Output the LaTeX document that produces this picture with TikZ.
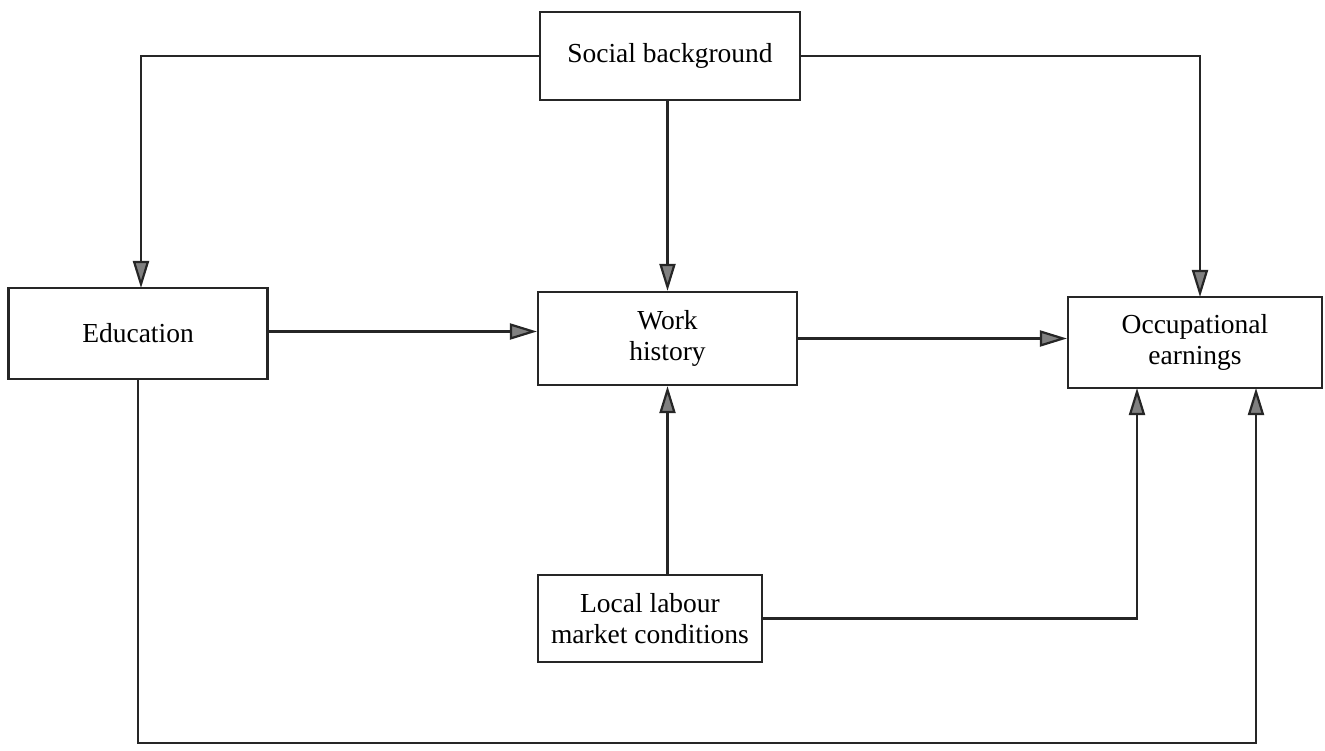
\documentclass[tikz,border=0pt]{standalone}
\usepackage{fontspec}
\setmainfont{Liberation Serif}
\usetikzlibrary{arrows.meta,calc}
\begin{document}
\begin{tikzpicture}[x=1pt,y=-1pt,
  box/.style={draw=black!85,line width=2.2pt,inner sep=0pt,align=center,
    font=\fontsize{27.5}{31}\selectfont},
  arr/.style={draw=black!85,line width=2.2pt,
    -{Triangle[length=27pt,width=16pt,fill=black!50]}}]
\useasboundingbox (0,0) rectangle (1325,751);
\node[box,minimum width=260pt,minimum height=88pt] (soc) at (670,56) {Social background};
\node[box,minimum width=259pt,minimum height=91pt] (edu) at (138,333.5) {Education};
\node[box,minimum width=259pt,minimum height=93pt] (work) at (667.5,338.5) {Work\\history};
\node[box,minimum width=254pt,minimum height=91pt] (occ) at (1195,342.5) {Occupational\\earnings};
\node[box,minimum width=224pt,minimum height=87pt] (lab) at (650,618.5) {Local labour\\market conditions};
\coordinate (e1) at (141,288);
\coordinate (o0) at (1200,297);
\coordinate (o1) at (1137,388);
\coordinate (o2) at (1256,388);
\coordinate (bot) at (0,743);
\draw[arr] (soc.west) -| (e1);
\draw[arr] (soc.south -| work.north) -- (work.north);
\draw[arr] (soc.east) -| (o0);
\draw[arr] ([yshift=2pt]edu.east) -- ([yshift=2pt]edu.east -| work.west);
\draw[arr] (work.east) -- (work.east -| occ.west);
\draw[arr] (lab.north -| work.south) -- (work.south);
\draw[arr] (lab.east) -| (o1);
\draw[arr] (edu.south) -- (edu.south |- bot) -| (o2);
\end{tikzpicture}
\end{document}
